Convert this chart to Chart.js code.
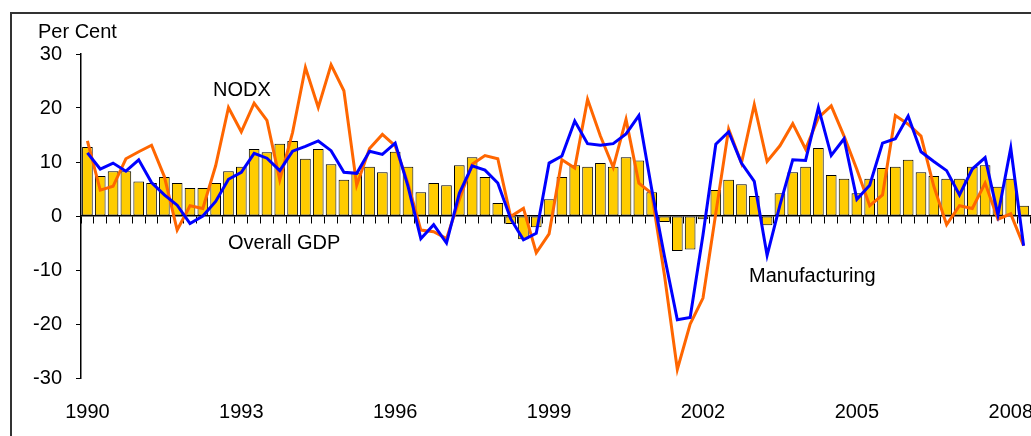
<!DOCTYPE html>
<html>
<head>
<meta charset="utf-8">
<script src="https://cdn.jsdelivr.net/npm/chart.js@4"></script>
<style>
html, body { margin: 0; padding: 0; background: #fff; overflow: hidden; }
#wrap { position: relative; width: 1031px; height: 436px; }
#frame { position: absolute; left: 10px; top: 12px; width: 1100px; height: 500px; border: 2px solid #333; box-sizing: border-box; }
#gdpChart { position: absolute; left: 0; top: 0; }
</style>
</head>
<body>
<div id="wrap">
    <div id="frame"></div>
    <canvas id="gdpChart" width="1031" height="436"></canvas>
</div>
<script>
// quarters 1990Q1 .. 2008Q2
const years = [1990, 1991, 1992, 1993, 1994, 1995, 1996, 1997, 1998, 1999, 2000, 2001, 2002, 2003, 2004, 2005, 2006, 2007, 2008];
const quarterNames = ['Q1', 'Q2', 'Q3', 'Q4'];
const tickYears = ['1990', '1993', '1996', '1999', '2002', '2005', '2008'];

// Overall GDP growth (bars), per cent
const gdpData = [
    12.8, 7.4, 8.3, 8.3, 6.4, 6.1, 7.2, 6.1, 5.2, 5.2, 6.1, 8.3,
    9.1, 12.4, 11.8, 13.4, 13.9, 10.6, 12.4, 9.6, 6.7, 8.0, 9.1, 8.1,
    11.9, 9.1, 4.4, 6.1, 5.7, 9.4, 10.9, 7.2, 2.4, -1.5, -4.3, -2.1,
    3.1, 7.2, 9.4, 9.1, 9.8, 9.1, 10.9, 10.3, 4.4, -1.1, -6.5, -6.2,
    -0.6, 4.8, 6.7, 5.9, 3.7, -1.7, 4.2, 8.1, 9.1, 12.6, 7.6, 6.9,
    4.2, 6.9, 8.9, 9.1, 10.4, 8.1, 7.4, 6.9, 6.9, 9.1, 9.4, 5.4,
    6.9, 1.9
];

// NODX growth (orange line)
const nodxData = [
    13.9, 4.8, 5.5, 10.6, 11.9, 13.1, 7.3, -2.6, 1.9, 1.4, 9.3, 20.1,
    15.6, 20.9, 17.7, 6.7, 15.5, 27.5, 20.1, 28.0, 23.2, 5.7, 12.5, 15.1,
    13.0, 6.0, -2.6, -2.9, -4.2, 3.0, 9.6, 11.2, 10.6, -0.1, 1.4, -6.8,
    -3.3, 10.4, 8.9, 21.6, 14.8, 9.0, 17.9, 6.1, 4.2, -11.0, -28.4, -20.0,
    -15.2, 0.5, 16.1, 9.8, 20.6, 10.1, 13.0, 17.1, 12.4, 18.2, 20.4, 14.8,
    8.6, 1.9, 3.9, 18.6, 17.0, 14.8, 5.5, -1.6, 1.9, 1.4, 6.1, -0.6,
    0.4, -5.5
];

// Manufacturing growth (blue line)
const mfgData = [
    11.7, 8.7, 9.8, 8.3, 10.4, 6.2, 3.9, 2.0, -1.4, 0.0, 2.7, 6.8,
    8.1, 11.6, 10.7, 8.4, 12.0, 12.9, 13.9, 12.1, 8.1, 7.9, 12.0, 11.4,
    13.5, 5.5, -4.2, -1.6, -5.0, 4.2, 9.3, 8.5, 6.1, -0.5, -4.4, -3.2,
    9.8, 11.1, 17.6, 13.4, 13.1, 13.4, 15.2, 18.6, 5.0, -7.5, -19.2, -18.8,
    -3.5, 13.3, 15.6, 9.8, 6.4, -7.3, 2.0, 10.4, 10.3, 20.1, 11.2, 14.3,
    3.1, 5.7, 13.5, 14.3, 18.5, 11.9, 10.1, 8.4, 3.9, 8.7, 10.8, 0.2,
    12.6, -5.5
];

const quarters = [];
years.forEach(function (yr) {
    quarterNames.forEach(function (q) { quarters.push(yr + q); });
});
quarters.length = gdpData.length;

const fontFamily = 'Arial, "Liberation Sans", sans-serif';

// series names written on the plot
const notes = {
    id: 'notes',
    afterDraw(chart) {
        const c = chart.ctx;
        c.save();
        c.font = '20px ' + fontFamily;
        c.fillStyle = '#000';
        c.textBaseline = 'middle';
        c.textAlign = 'left';
        c.fillText('Per Cent', 38, 32);
        c.fillText('NODX', 213, 90);
        c.fillText('Overall GDP', 228, 243);
        c.fillText('Manufacturing', 749, 276);
        c.restore();
    }
};

new Chart(document.getElementById('gdpChart').getContext('2d'), {
    type: 'bar',
    data: {
        labels: quarters,
        datasets: [
            {
                type: 'line',
                label: 'Manufacturing',
                data: mfgData,
                borderColor: '#0000FF',
                borderWidth: 3,
                pointRadius: 0,
                tension: 0,
                fill: false,
                order: 1,
                xAxisID: 'x',
                yAxisID: 'y'
            },
            {
                type: 'line',
                label: 'NODX',
                data: nodxData,
                borderColor: '#FF6600',
                borderWidth: 3,
                pointRadius: 0,
                tension: 0,
                fill: false,
                order: 2,
                xAxisID: 'x',
                yAxisID: 'y'
            },
            {
                label: 'Overall GDP',
                data: gdpData,
                backgroundColor: '#FFCC00',
                borderColor: '#000',
                borderWidth: 1,
                borderSkipped: false,
                barPercentage: 0.83,
                categoryPercentage: 1,
                order: 3,
                xAxisID: 'x',
                yAxisID: 'y'
            }
        ]
    },
    options: {
        responsive: false,
        animation: false,
        layout: { padding: { left: 11, top: 54, right: 1, bottom: 0 } },
        plugins: {
            legend: { display: false },
            tooltip: { enabled: false }
        },
        scales: {
            x: {
                type: 'category',
                position: { y: 0 },
                offset: true,
                grid: { offset: true, drawOnChartArea: false, drawTicks: true, tickLength: 7, color: '#000', lineWidth: 1 },
                border: { color: '#000', width: 1.5 },
                ticks: { display: false, autoSkip: false }
            },
            x2: {
                type: 'category',
                labels: quarters,
                position: 'bottom',
                offset: true,
                grid: { display: false, drawTicks: false },
                border: { display: false },
                ticks: {
                    autoSkip: false,
                    maxRotation: 0,
                    padding: 22,
                    color: '#000',
                    font: { family: fontFamily, size: 20 },
                    callback: function (value, index) {
                        const lbl = quarters[index];
                        return lbl.endsWith('Q1') && tickYears.includes(lbl.slice(0, 4)) ? lbl.slice(0, 4) : '';
                    }
                },
                afterFit: function (scale) {
                    scale.height = 58;
                    scale.paddingLeft = 0;
                    scale.paddingRight = 0;
                }
            },
            y: {
                min: -30,
                max: 30,
                ticks: { stepSize: 10, color: '#000', padding: 14, font: { family: fontFamily, size: 20 } },
                grid: { drawOnChartArea: false, tickLength: 5, color: '#000' },
                border: { color: '#000', width: 1.5 },
                afterFit: function (scale) { scale.width = 70; }
            }
        }
    },
    plugins: [notes]
});
</script>
</body>
</html>
